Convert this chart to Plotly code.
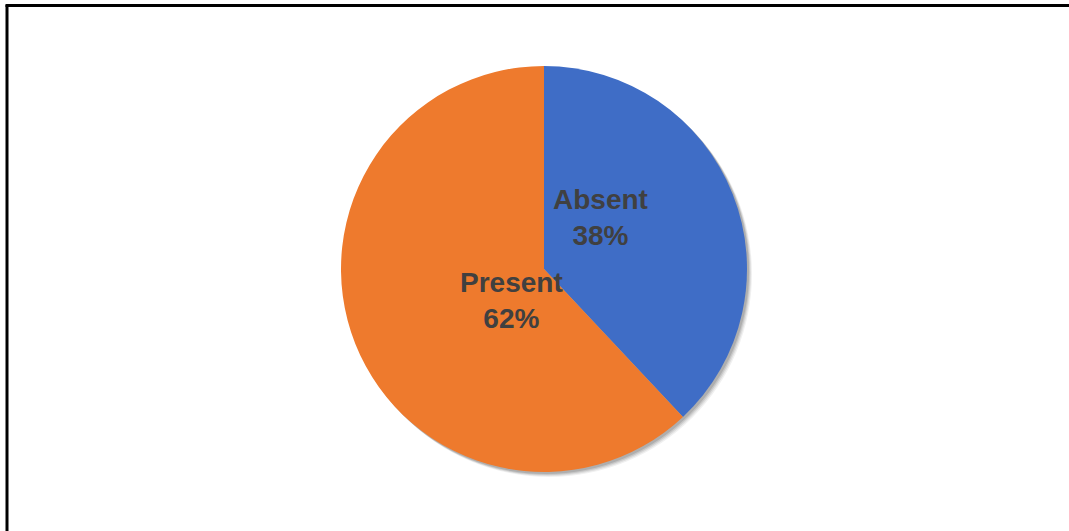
import plotly.graph_objects as go

# Attendance split
labels = ["Absent", "Present"]
values = [38, 62]
colors = ["#3F6DC6", "#EE7A2D"]

W, H = 1069, 531
cx, cy, r = 544, 269, 203  # pie centre and radius in pixels


def dom(dx=0, dy=0):
    return dict(
        x=[(cx - r + dx) / W, (cx + r + dx) / W],
        y=[1 - (cy + r + dy) / H, 1 - (cy - r + dy) / H],
    )


fig = go.Figure()

# soft drop shadow beneath the pie
for off, alpha in [(5, 0.06), (4, 0.08), (3, 0.10), (2, 0.12)]:
    fig.add_trace(go.Pie(
        values=[1], domain=dom(off, off), sort=False,
        marker=dict(colors=[f"rgba(0,0,0,{alpha})"], line=dict(width=0)),
        textinfo="none", hoverinfo="skip", showlegend=False,
    ))

fig.add_trace(go.Pie(
    labels=labels, values=values, domain=dom(), sort=False,
    direction="clockwise", rotation=0,
    marker=dict(colors=colors, line=dict(width=0)),
    textinfo="none", showlegend=False,
))

# slice labels
label_pos = {"Absent": (600, 217), "Present": (511, 300)}
total = sum(values)
for lab, v in zip(labels, values):
    px, py = label_pos[lab]
    fig.add_annotation(
        x=px / W, y=1 - py / H, xref="paper", yref="paper",
        text=f"<b>{lab}<br>{round(100 * v / total)}%</b>",
        showarrow=False, align="center",
        font=dict(family="Liberation Sans, Arial", size=28, color="#404040"),
    )

# frame edges
fig.add_shape(type="line", xref="paper", yref="paper",
              x0=7 / W, x1=7 / W, y0=-0.05, y1=1 - 5 / H,
              line=dict(color="black", width=3))
fig.add_shape(type="line", xref="paper", yref="paper",
              x0=5.5 / W, x1=1.05, y0=1 - 5.5 / H, y1=1 - 5.5 / H,
              line=dict(color="black", width=3))

fig.update_layout(
    width=W, height=H,
    margin=dict(l=0, r=0, t=0, b=0),
    paper_bgcolor="white", plot_bgcolor="white",
)

fig.write_html("out.html")
